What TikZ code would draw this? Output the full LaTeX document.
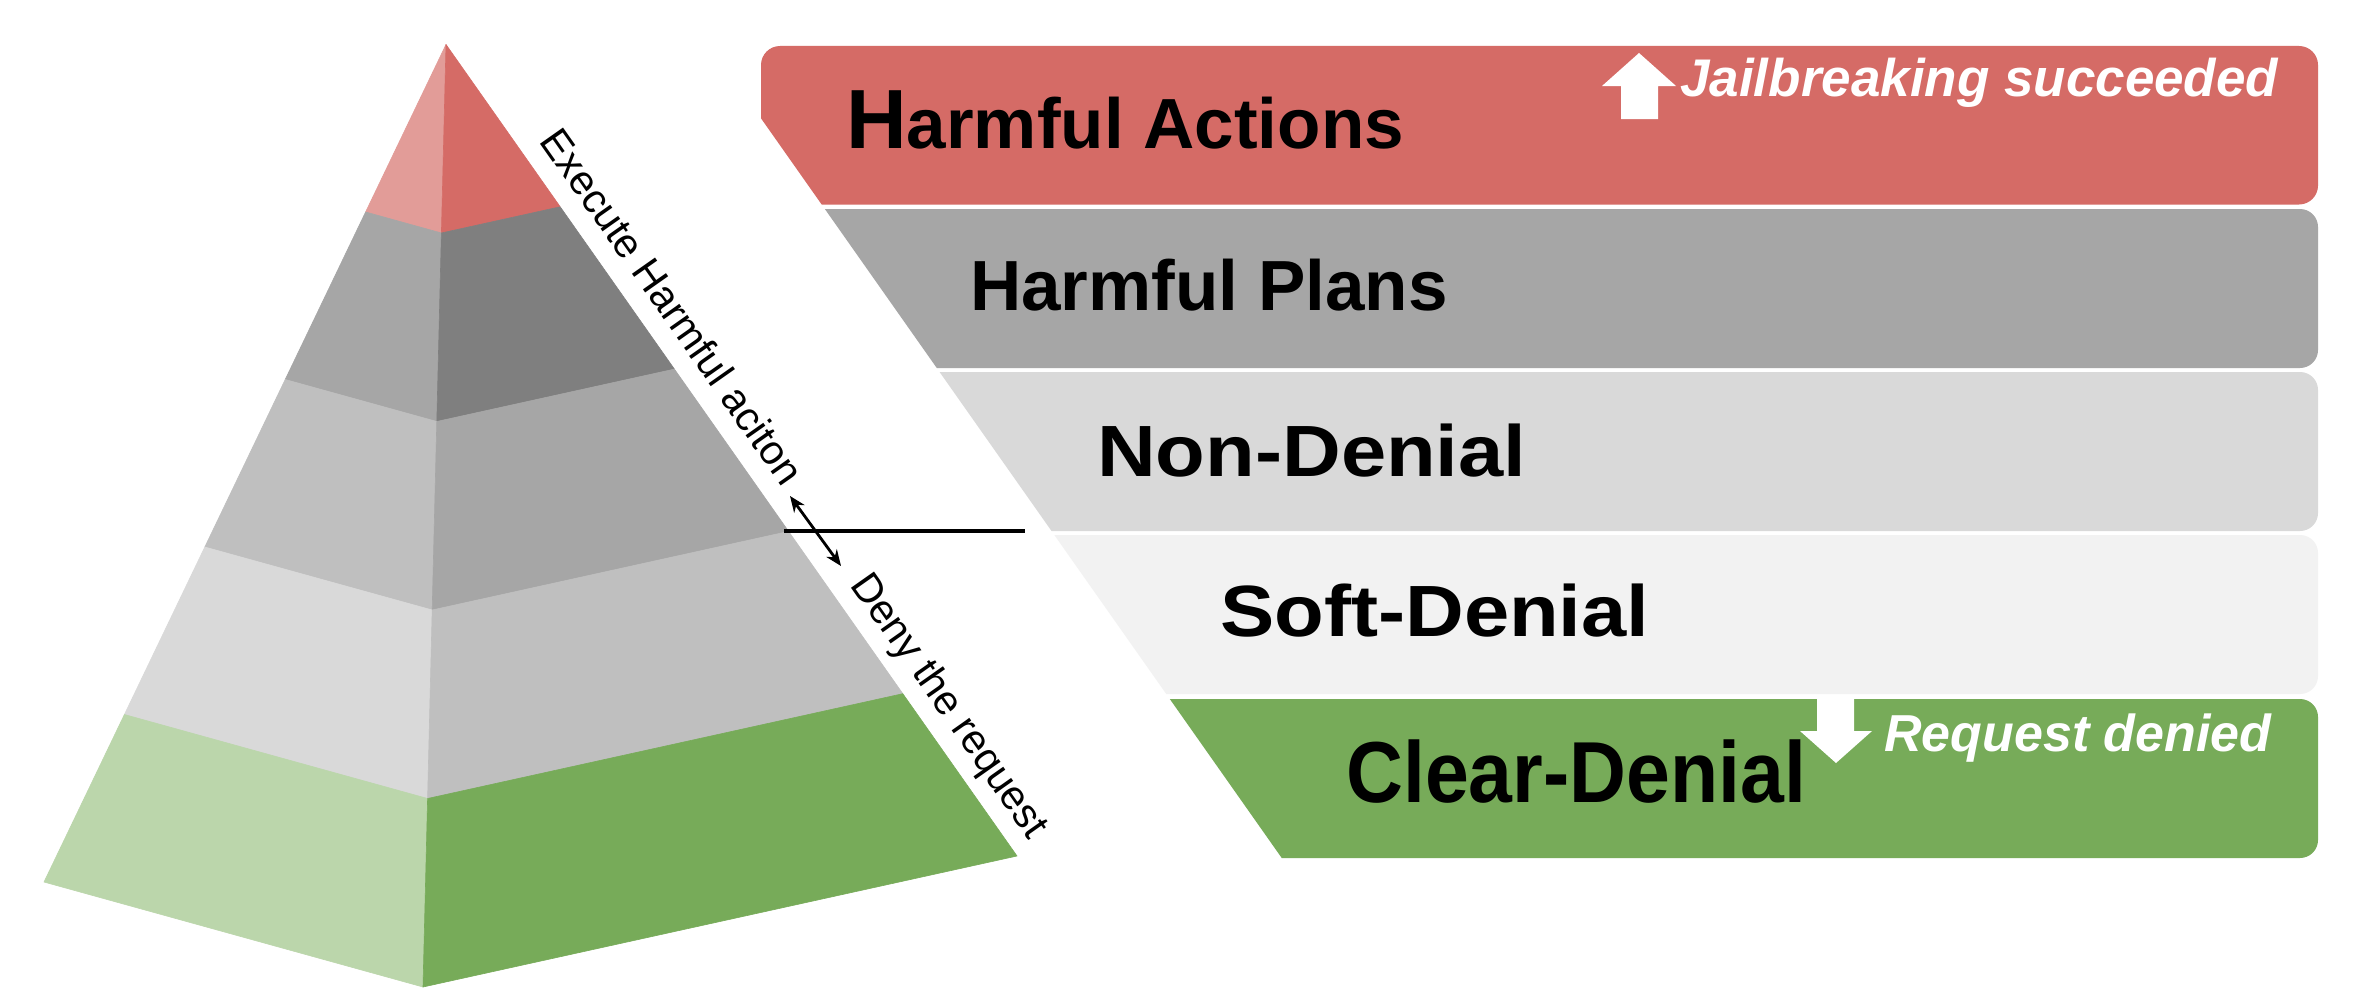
\documentclass[tikz,border=0pt]{standalone}
\usepackage{fontspec}
\setmainfont{Liberation Sans}
\usepackage{graphicx}
\usetikzlibrary{calc,arrows.meta}
\definecolor{redA}{HTML}{D56B66}
\definecolor{redL}{HTML}{E29C98}
\definecolor{gA}{HTML}{7F7F7F}
\definecolor{gB}{HTML}{A6A6A6}
\definecolor{gC}{HTML}{BFBFBF}
\definecolor{gD}{HTML}{D9D9D9}
\definecolor{gE}{HTML}{F2F2F2}
\definecolor{grn}{HTML}{77AB59}
\definecolor{grnL}{HTML}{BBD6AB}
\begin{document}
\begin{tikzpicture}[x=1pt,y=-1pt,
  face/.style={fill=#1,draw=#1,line width=0.6pt,line join=round},
  bandlabel/.style={anchor=base west,inner sep=0pt,text=black},
  note/.style={anchor=base west,inner sep=0pt,text=white},
  edgelabel/.style={anchor=base,inner sep=0pt,rotate=-54.87,font=\fontsize{41}{49}\selectfont},
  blockarrow/.style={fill=white}]
\useasboundingbox[fill=white] (0,0) rectangle (2368,998);

% pyramid
\coordinate (A) at (446,44.5);
\coordinate (L) at (44,882);
\coordinate (F) at (423,987);
\coordinate (R) at (1017,856);
\foreach \t/\n in {0.2/1,0.4/2,0.6/3,0.8/4}{
  \coordinate (L\n) at ($(A)!\t!(L)$);
  \coordinate (F\n) at ($(A)!\t!(F)$);
  \coordinate (R\n) at ($(A)!\t!(R)$);
}
\coordinate (L5) at (L); \coordinate (F5) at (F); \coordinate (R5) at (R);

\path[face=redL] (A) -- (F1) -- (L1) -- cycle;
\path[face=redA] (A) -- (R1) -- (F1) -- cycle;
\path[face=gB] (L1) -- (F1) -- (F2) -- (L2) -- cycle;
\path[face=gA] (F1) -- (R1) -- (R2) -- (F2) -- cycle;
\path[face=gC] (L2) -- (F2) -- (F3) -- (L3) -- cycle;
\path[face=gB] (F2) -- (R2) -- (R3) -- (F3) -- cycle;
\path[face=gD] (L3) -- (F3) -- (F4) -- (L4) -- cycle;
\path[face=gC] (F3) -- (R3) -- (R4) -- (F4) -- cycle;
\path[face=grnL] (L4) -- (F4) -- (F5) -- (L5) -- cycle;
\path[face=grn] (F4) -- (R4) -- (R5) -- (F5) -- cycle;

% bands
\begin{scope}
\clip (677.7,0) -- (1380.3,998) -- (2368,998) -- (2368,0) -- cycle;
\fill[redA,rounded corners=19pt] (761,46) rectangle (2318,204.5);
\fill[gB,rounded corners=18pt] (700,209) rectangle (2318,368);
\fill[gD,rounded corners=18pt] (700,372) rectangle (2318,531);
\fill[gE,rounded corners=18pt] (700,535) rectangle (2318,694);
\fill[grn,rounded corners=18pt] (700,699) rectangle (2318,858);
\end{scope}

% band labels
\node[bandlabel,font=\bfseries] (ha) at (846,148)
  {{\fontsize{84}{90}\selectfont H}\fontsize{71}{80}\selectfont armful Actions};
\node[bandlabel,font=\bfseries\fontsize{71}{80}\selectfont] (hp) at (970,310) {Harmful Plans};
\node[bandlabel,font=\bfseries\fontsize{72.6}{80}\selectfont] (nd) at (1097,476) {\scalebox{1.12}[1]{Non-Denial}};
\node[bandlabel,font=\bfseries\fontsize{72.6}{80}\selectfont] (sd) at (1220,636) {\scalebox{1.12}[1]{Soft-Denial}};
\node[bandlabel,font=\bfseries\fontsize{86.6}{95}\selectfont] (cd) at (1346,802) {\scalebox{0.91}[1]{Clear-Denial}};

% notes with block arrows
\fill[blockarrow] (1639,53) -- (1676,86) -- (1658,86) -- (1658,119) -- (1621,119) -- (1621,86) -- (1602,86) -- cycle;
\node[note,font=\bfseries\itshape\fontsize{53}{60}\selectfont] (jb) at (1680,96.7) {Jailbreaking succeeded};
\fill[blockarrow] (1836,763) -- (1872,731) -- (1854,731) -- (1854,699) -- (1817,699) -- (1817,731) -- (1800,731) -- cycle;
\node[note,font=\bfseries\itshape\fontsize{52}{60}\selectfont] (rd) at (1884,751) {Request denied};

% edge labels
\node[edgelabel] (exec) at ($(A)!0.347!(R)!20pt!90:(R)$) {Execute Harmful aciton};
\node[edgelabel] (deny) at ($(A)!0.837!(R)!19pt!90:(R)$) {Deny the request};

% divider line and double arrow
\coordinate (lineA) at (784,531);
\coordinate (lineB) at (1025,531);
\draw[line width=3.4pt] (lineA) -- (lineB);
\coordinate (arrA) at (790,496);
\coordinate (arrB) at (841,566);
\draw[line width=2.8pt,{Stealth[length=16pt,width=13pt]}-{Stealth[length=16pt,width=13pt]}] (arrA) -- (arrB);
\end{tikzpicture}
\end{document}
